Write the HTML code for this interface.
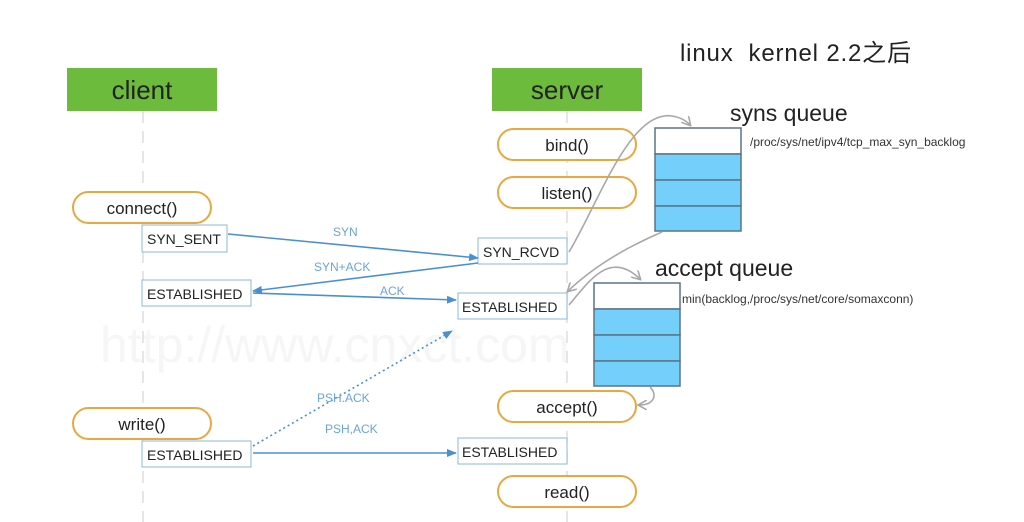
<!DOCTYPE html>
<html><head><meta charset="utf-8"><style>
html,body{margin:0;padding:0;background:#fff;}
svg{display:block;}
text{font-family:"Liberation Sans","Noto Sans CJK SC",sans-serif;}
</style></head><body>
<svg width="1024" height="522" viewBox="0 0 1024 522" xmlns="http://www.w3.org/2000/svg">
<defs>
<marker id="ab" markerWidth="10" markerHeight="8" refX="9" refY="4" orient="auto" markerUnits="userSpaceOnUse"><path d="M0,0 L10,4 L0,8 z" fill="#4a90d0"/></marker>
<marker id="ag" markerWidth="10" markerHeight="10" refX="8" refY="5" orient="auto" markerUnits="userSpaceOnUse"><path d="M0,0 L9,5 L0,10" fill="none" stroke="#a8a8a8" stroke-width="1.6"/></marker>
</defs>
<text x="100" y="362" font-size="50" fill="#f6f6f6">http://www.cnxct.com</text>
<text x="680" y="61" font-size="24" fill="#222" textLength="231" lengthAdjust="spacing" xml:space="preserve">linux  kernel 2.2之后</text>
<!-- lifelines -->
<line x1="143" y1="111" x2="143" y2="522" stroke="#ddd" stroke-width="1.5" stroke-dasharray="12,8"/>
<line x1="567" y1="111" x2="567" y2="522" stroke="#ddd" stroke-width="1.5" stroke-dasharray="12,8"/>
<rect x="67" y="68" width="150" height="43" fill="#6cbb3c"/>
<text x="142" y="99" font-size="26" text-anchor="middle" fill="#222">client</text>
<rect x="492" y="68" width="150" height="43" fill="#6cbb3c"/>
<text x="567" y="99" font-size="26" text-anchor="middle" fill="#222">server</text>
<!-- pills -->
<g fill="#fff" stroke="#e8a840" stroke-width="2">
<rect x="498" y="129" width="138" height="31" rx="15.5"/>
<rect x="498" y="177" width="138" height="31" rx="15.5"/>
<rect x="73" y="192" width="138" height="31" rx="15.5"/>
<rect x="73" y="408" width="138" height="31" rx="15.5"/>
<rect x="498" y="391" width="138" height="31" rx="15.5"/>
<rect x="498" y="476" width="138" height="31" rx="15.5"/>
</g>
<g font-size="17" fill="#222" text-anchor="middle">
<text x="567" y="151">bind()</text>
<text x="567" y="199">listen()</text>
<text x="142" y="214">connect()</text>
<text x="142" y="430">write()</text>
<text x="567" y="413">accept()</text>
<text x="567" y="498">read()</text>
</g>
<!-- state boxes -->
<g fill="#fff" stroke="#8cb8d8" stroke-width="1">
<rect x="142" y="225" width="85" height="27"/>
<rect x="142" y="280" width="109" height="26"/>
<rect x="478" y="238" width="89" height="26"/>
<rect x="458" y="293" width="109" height="26"/>
<rect x="142" y="441" width="109" height="26"/>
<rect x="458" y="438" width="109" height="26"/>
</g>
<g font-size="14" fill="#222">
<text x="147" y="244">SYN_SENT</text>
<text x="147" y="299">ESTABLISHED</text>
<text x="483" y="257">SYN_RCVD</text>
<text x="462" y="312">ESTABLISHED</text>
<text x="147" y="460">ESTABLISHED</text>
<text x="462" y="457">ESTABLISHED</text>
</g>
<!-- arrows -->
<g stroke="#4a90d0" stroke-width="1.6" fill="none">
<line x1="228" y1="234" x2="478" y2="258" marker-end="url(#ab)"/>
<line x1="478" y1="263" x2="253" y2="291" marker-end="url(#ab)"/>
<line x1="253" y1="293" x2="456" y2="300" marker-end="url(#ab)"/>
<line x1="253" y1="453" x2="456" y2="453" marker-end="url(#ab)"/>
<line x1="253" y1="446" x2="452" y2="331" stroke-dasharray="2,3" marker-end="url(#ab)"/>
</g>
<g font-size="12" fill="#6aa4d8">
<text x="333" y="236">SYN</text>
<text x="314" y="271">SYN+ACK</text>
<text x="380" y="295">ACK</text>
<text x="317" y="402">PSH.ACK</text>
<text x="325" y="433">PSH,ACK</text>
</g>
<!-- queues -->
<g stroke="#5a7488" stroke-width="1.5">
<rect x="655" y="128" width="86" height="26" fill="#fff"/>
<rect x="655" y="154" width="86" height="26" fill="#74d0fa"/>
<rect x="655" y="180" width="86" height="26" fill="#74d0fa"/>
<rect x="655" y="206" width="86" height="25" fill="#74d0fa"/>
<rect x="594" y="283" width="86" height="26" fill="#fff"/>
<rect x="594" y="309" width="86" height="26" fill="#74d0fa"/>
<rect x="594" y="335" width="86" height="26" fill="#74d0fa"/>
<rect x="594" y="361" width="86" height="25" fill="#74d0fa"/>
</g>
<text x="730" y="121" font-size="23" fill="#222">syns queue</text>
<text x="655" y="276" font-size="23" fill="#222">accept queue</text>
<text x="750" y="146" font-size="12" fill="#333">/proc/sys/net/ipv4/tcp_max_syn_backlog</text>
<text x="682" y="303" font-size="12" fill="#333">min(backlog,/proc/sys/net/core/somaxconn)</text>
<!-- gray curves -->
<g stroke="#a8a8a8" stroke-width="1.6" fill="none">
<path d="M569,252 C600,200 630,110 672,116 Q684,118 690,125" marker-end="url(#ag)"/>
<path d="M662,232 C620,250 590,270 568,291" marker-end="url(#ag)"/>
<path d="M569,305 C590,280 610,250 640,279" marker-end="url(#ag)"/>
<path d="M650,387 C658,395 654,405 639,405" marker-end="url(#ag)"/>
</g>
</svg>
</body></html>
